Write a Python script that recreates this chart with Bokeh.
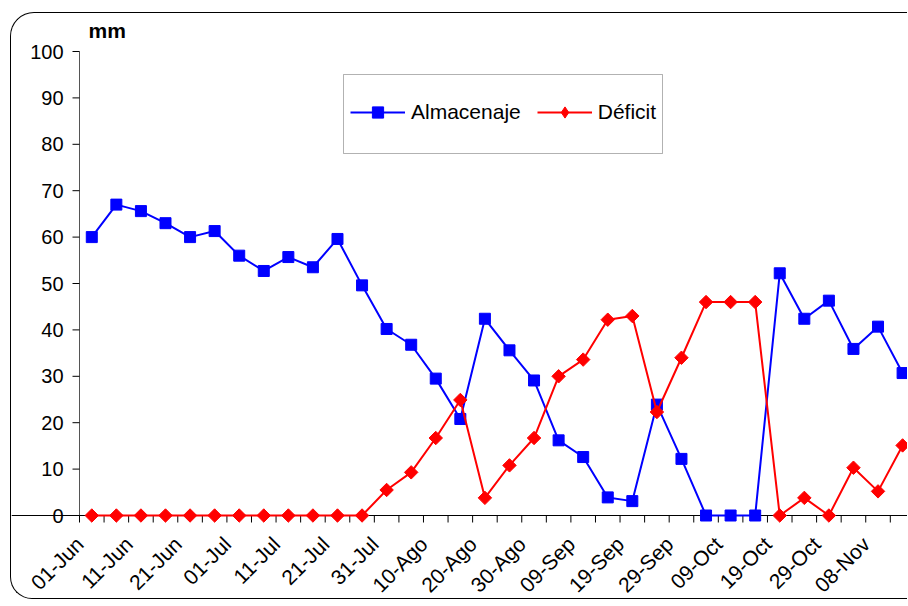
import math
from bokeh.plotting import figure
from bokeh.models import (Legend, LegendItem, BoxAnnotation, Span, Range1d,
                          ColumnDataSource)
from bokeh.core.properties import value
from bokeh.embed import file_html
from bokeh.resources import INLINE

dates = ["01-Jun", "06-Jun", "11-Jun", "16-Jun", "21-Jun", "26-Jun", "01-Jul", "06-Jul",
         "11-Jul", "16-Jul", "21-Jul", "26-Jul", "31-Jul", "05-Ago", "10-Ago", "15-Ago",
         "20-Ago", "25-Ago", "30-Ago", "04-Sep", "09-Sep", "14-Sep", "19-Sep", "24-Sep",
         "29-Sep", "04-Oct", "09-Oct", "14-Oct", "19-Oct", "24-Oct", "29-Oct", "03-Nov",
         "08-Nov", "13-Nov"]
almacenaje = [60.0, 67.0, 65.6, 63.0, 60.0, 61.3, 56.0, 52.7, 55.7, 53.5, 59.6, 49.6,
              40.2, 36.8, 29.5, 20.8, 42.4, 35.6, 29.1, 16.2, 12.6, 3.9, 3.1, 23.9,
              12.2, 0.0, 0.0, 0.0, 52.2, 42.4, 46.3, 35.9, 40.7, 30.7]
deficit = [0, 0, 0, 0, 0, 0, 0, 0, 0, 0, 0, 0,
           5.5, 9.3, 16.7, 24.9, 3.8, 10.8, 16.7, 30.0, 33.6, 42.2, 43.0, 22.3,
           34.0, 46.0, 46.0, 46.0, 0.0, 3.8, 0.0, 10.3, 5.2, 15.1]
y_ticks = [0, 10, 20, 30, 40, 50, 60, 70, 80, 90, 100]
series_names = ["Almacenaje", "Déficit"]
unit_label = "mm"

FONT = "Liberation Sans"
PX_X = 24.57                       # px per category
PX_Y = 4.64                        # px per mm
X_LEFT = -0.5                      # category axis starts half a category before the first point
Y_TOP = y_ticks[-1]

n = len(dates)
idx = list(range(n))
src = ColumnDataSource(dict(x=idx, a=almacenaje, d=deficit))

# category axis pieces
lab_idx = idx[::2]
lab_src = ColumnDataSource(dict(x=lab_idx, y=[0] * len(lab_idx),
                                t=[dates[i] for i in lab_idx]))
tick_x = [i - 0.5 for i in range(n + 1)]
tick_src = ColumnDataSource(dict(x=tick_x, y0=[0] * len(tick_x),
                                 y1=[-7 / PX_Y] * len(tick_x)))
# value axis pieces
ytick_src = ColumnDataSource(dict(y=y_ticks, x0=[X_LEFT] * len(y_ticks),
                                  x1=[X_LEFT - 7 / PX_X] * len(y_ticks),
                                  t=[str(v) for v in y_ticks]))

W, H = 897, 587
frame_left_px, frame_top_px = 68, 38          # where (X_LEFT, Y_TOP) sits on the canvas
x0 = X_LEFT - frame_left_px / PX_X
x1 = X_LEFT + (W - frame_left_px) / PX_X
y1 = Y_TOP + frame_top_px / PX_Y
y0 = Y_TOP - (H - frame_top_px) / PX_Y

p = figure(width=W, height=H, output_backend="svg", toolbar_location=None,
           x_range=Range1d(x0, x1), y_range=Range1d(y0, y1),
           min_border=0, background_fill_color=None, border_fill_color=None,
           styles={"border-left": "1px solid black", "border-top": "1px solid black",
                   "border-bottom": "1px solid black",
                   "border-top-left-radius": "24px",
                   "border-bottom-left-radius": "22px",
                   "margin-left": "10px", "margin-top": "12px"})
p.xgrid.visible = False
p.ygrid.visible = False
p.outline_line_color = None
p.xaxis.visible = False
p.yaxis.visible = False

# value axis
p.segment(x0=X_LEFT, y0=0, x1=X_LEFT, y1=Y_TOP, line_color="#555555", line_width=1)
p.segment(x0="x0", y0="y", x1="x1", y1="y", source=ytick_src, line_color="black",
          line_width=1)
p.text(x="x0", y="y", text="t", source=ytick_src, x_offset=-16,
       text_align="right", text_baseline="middle",
       text_font=value(FONT), text_font_size="20px", text_color="black")
p.text(x=X_LEFT, y=Y_TOP, text=[unit_label], x_offset=9, y_offset=-21,
       text_align="left", text_baseline="alphabetic", text_font=value(FONT),
       text_font_style="bold", text_font_size="21px", text_color="black")

# category axis
p.add_layout(Span(location=0, dimension="width", line_color="black", line_width=1,
                  level="underlay"))
p.segment(x0="x", y0="y0", x1="x", y1="y1", source=tick_src, line_color="black",
          line_width=1)
p.text(x="x", y="y", text="t", source=lab_src, angle=math.pi / 4,
       text_align="right", text_baseline="alphabetic", x_offset=-12, y_offset=25,
       text_font=value(FONT), text_font_size="21px", text_color="black")

la = p.line("x", "a", source=src, line_color="#0000FF", line_width=2)
ma = p.scatter("x", "a", source=src, marker="square", size=11,
               fill_color="#0000FF", line_color="#0000FF")
ld = p.line("x", "d", source=src, line_color="#FF0000", line_width=2)
md = p.scatter("x", "d", source=src, marker="square", angle=math.pi / 4, size=9.5,
               fill_color="#FF0000", line_color="#FF0000")
# legend-only sample of the diamond marker (draws nothing on the plot)
leg_src = ColumnDataSource(dict(x=[float("nan")], y=[float("nan")]))
md_leg = p.scatter("x", "y", source=leg_src, marker="diamond", size=12,
                   fill_color="#FF0000", line_color="#FF0000")

legend = Legend(items=[LegendItem(label=series_names[0], renderers=[la, ma]),
                       LegendItem(label=series_names[1], renderers=[ld, md_leg])],
                location=(339, 474), orientation="horizontal",
                padding=9, margin=0, spacing=16, glyph_width=55, glyph_height=28,
                label_standoff=6, label_text_font=FONT, label_text_font_size="21px",
                label_text_color="black",
                border_line_color=None, background_fill_alpha=0)
p.add_layout(legend)

p.add_layout(BoxAnnotation(left=331, right=650, top=60, bottom=139,
                           left_units="canvas", right_units="canvas",
                           top_units="canvas", bottom_units="canvas",
                           fill_alpha=0, line_color="black", line_width=1))

open("out.html", "w").write(file_html(p, INLINE))
